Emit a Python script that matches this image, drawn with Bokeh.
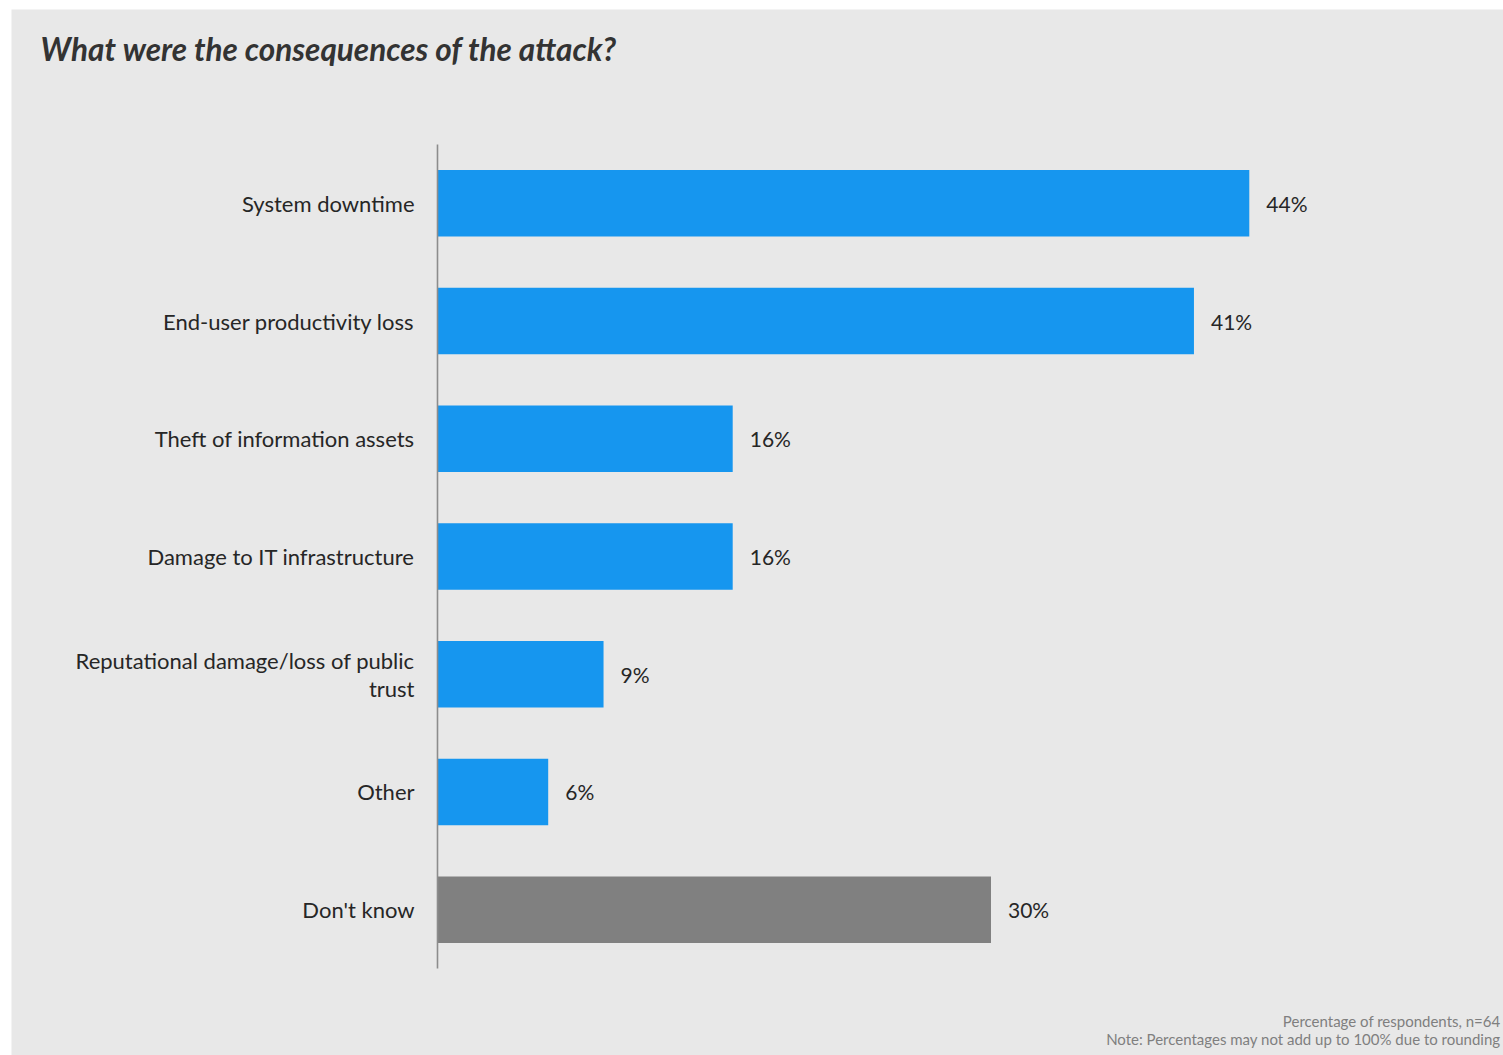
from bokeh.plotting import figure
from bokeh.models import Range1d, ColumnDataSource
from bokeh.core.properties import value
from bokeh.embed import file_html
from bokeh.resources import INLINE

categories = [
    "System downtime",
    "End-user productivity loss",
    "Theft of information assets",
    "Damage to IT infrastructure",
    "Reputational damage/loss of public trust",
    "Other",
    "Don't know",
]
values = [44, 41, 16, 16, 9, 6, 30]
value_labels = ["44%", "41%", "16%", "16%", "9%", "6%", "30%"]
bar_colors = ["#1696EF"] * 6 + ["#808080"]
wrapped = {"Reputational damage/loss of public trust": "Reputational damage/loss of public\ntrust"}

title_text = "What were the consequences of the attack?"
note_lines = [
    "Percentage of respondents, n=64",
    "Note: Percentages may not add up to 100% due to rounding",
]

FONT = "Lato"
BG = "#E8E8E8"

# page geometry (figure placed at page offset 11, 9)
OX, OY = 11, 9
W, H = 1492, 1046
AX_X = 437          # page x of value 0
PX_PER = 18.45      # pixels per percent
TOP, BOT = 144, 968  # page y of category band top/bottom
n = len(categories)
py_per = (BOT - TOP) / n

def dx(px):
    return (px - AX_X) / PX_PER

def dy(py):
    return n - (py - TOP) / py_per

p = figure(
    width=W, height=H,
    x_range=Range1d(dx(OX), dx(OX + W)),
    y_range=Range1d(dy(OY + H), dy(OY)),
    output_backend="svg", toolbar_location=None,
    min_border=0,
    background_fill_color=BG, border_fill_color=BG, outline_line_color=None,
)
p.margin = (OY, 0, 0, OX)
p.xaxis.visible = False
p.yaxis.visible = False
p.xgrid.visible = False
p.ygrid.visible = False

ypos = [n - i - 0.5 for i in range(n)]
src = ColumnDataSource(dict(
    cat=[wrapped.get(c, c) for c in categories], y=ypos, val=values,
    lab=value_labels, col=bar_colors, zero=[0] * n,
))

p.hbar(y="y", right="val", left=0, height=0.565, fill_color="col", line_color=None, source=src)

# vertical axis line
p.segment(x0=[0], y0=[0], x1=[0], y1=[n], line_color="#8C8C8C", line_width=1.6)

# value labels
p.text(x="val", y="y", text="lab", x_offset=17, text_baseline="middle", text_align="left",
       text_font=value(FONT), text_font_size="21px", text_color="#262626", source=src)

# category labels
p.text(x="zero", y="y", text="cat", x_offset=-23, text_baseline="middle", text_align="right",
       text_font=value(FONT), text_font_size="22px", text_color="#262626", source=src,
       text_line_height=1.05)

# title
p.text(x=[dx(40)], y=[dy(48)], text=[title_text], text_font=value(FONT), text_font_size="31.5px",
       text_font_style="bold italic", text_color="#333333", text_baseline="middle",
       text_align="left")

# footnotes
p.text(x=[dx(1500), dx(1500)], y=[dy(1020), dy(1038)], text=note_lines, text_font=value(FONT),
       text_font_size="15px", text_color="#7F7F7F", text_align="right", text_baseline="middle")

open("out.html", "w").write(file_html(p, INLINE))
